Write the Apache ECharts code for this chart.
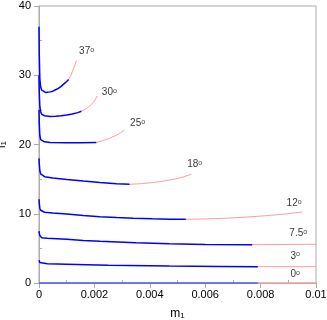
<!DOCTYPE html>
<html>
<head>
<meta charset="utf-8">
<title>i1 vs m1</title>
<script src="https://cdn.jsdelivr.net/npm/echarts@6/dist/echarts.min.js"></script>
<style>
  html, body { margin: 0; padding: 0; background: #fff; }
  #main { width: 327px; height: 320px; }
</style>
</head>
<body>
<div id="main"></div>
<script>
// angle names, in the same order as the curves below
var angles = ['37', '30', '25', '18', '12', '7.5', '3', '0'];

// blue (solid) part of each curve, [m1, i1]
var blue37 = [[0,37],[0.00001,33],[0.00003,29.5],[0.00006,28.3],[0.0001,27.85],[0.00015,27.6],[0.00025,27.5],[0.0004,27.6],[0.0005,27.7],[0.0006,27.9],[0.0007,28.1],[0.0008,28.4],[0.0009,28.75],[0.001,29.1],[0.00107,29.4]];
var blue30 = [[0,30],[0.00001,27.5],[0.00003,25.5],[0.00006,24.7],[0.0001,24.35],[0.0002,24.15],[0.0004,24.05],[0.0006,24.08],[0.0008,24.15],[0.001,24.25],[0.0012,24.4],[0.0014,24.6],[0.00153,24.8]];
var blue25 = [[0,25],[0.00001,23],[0.00003,21.3],[0.00006,20.7],[0.0001,20.5],[0.0002,20.38],[0.0004,20.3],[0.001,20.25],[0.0015,20.25],[0.00207,20.3]];
var blue18 = [[0,18],[0.00001,17.2],[0.00003,16.2],[0.00006,15.75],[0.0001,15.55],[0.0002,15.35],[0.0005,15.15],[0.001,14.95],[0.0016,14.72],[0.0022,14.5],[0.0028,14.33],[0.00327,14.25]];
var blue12 = [[0,12.1],[0.00001,11.5],[0.00003,10.8],[0.00006,10.5],[0.0001,10.35],[0.0002,10.22],[0.0005,10.1],[0.001,9.98],[0.0016,9.75],[0.0022,9.58],[0.0028,9.45],[0.0034,9.35],[0.0041,9.27],[0.0047,9.22],[0.0053,9.2]];
var blue7 = [[0,7.5],[0.00001,7.2],[0.00003,6.85],[0.00006,6.65],[0.0001,6.55],[0.0003,6.45],[0.001,6.3],[0.0016,6.15],[0.0022,6.02],[0.0035,5.8],[0.0047,5.65],[0.006,5.57],[0.0077,5.53]];
var blue3 = [[0,3.3],[0.00001,3.12],[0.00003,2.95],[0.00006,2.86],[0.0001,2.82],[0.0003,2.77],[0.001,2.7],[0.0025,2.58],[0.0047,2.45],[0.0065,2.4],[0.0079,2.36]];
var blue0 = [[0,0],[0.0079,0]];

// pink continuation of each curve
var red37 = [[0.00107,29.4],[0.00115,29.95],[0.0012,30.5],[0.00125,31.0],[0.0013,31.5],[0.00135,32.1]];
var red30 = [[0.00153,24.8],[0.0017,25.15],[0.00183,25.55],[0.0019,25.8],[0.002,26.25],[0.0021,27.0]];
var red25 = [[0.00207,20.3],[0.0023,20.55],[0.00255,20.9],[0.0028,21.35],[0.00295,21.7],[0.00309,22.1]];
var red18 = [[0.00327,14.25],[0.0037,14.35],[0.0041,14.5],[0.0045,14.72],[0.0049,15.0],[0.0052,15.3],[0.0055,15.7]];
var red12 = [[0.0053,9.2],[0.006,9.25],[0.0068,9.36],[0.0075,9.52],[0.0082,9.72],[0.0089,9.97],[0.0095,10.25]];
var red7 = [[0.0077,5.53],[0.009,5.56],[0.01,5.6]];
var red3 = [[0.0079,2.36],[0.01,2.36]];
var red0 = [[0.0079,0],[0.01,0]];

// where each angle label sits
var labelPos = [[0.00143,33.4],[0.00225,27.5],[0.00327,23.0],[0.00533,17.1],[0.00892,11.5],[0.00902,7.2],[0.00906,3.9],[0.00906,1.2]];

var blues = [blue37, blue30, blue25, blue18, blue12, blue7, blue3, blue0];
var reds = [red37, red30, red25, red18, red12, red7, red3, red0];

var myChart = echarts.init(document.getElementById('main'));

var series = [];
for (var i = 0; i < angles.length; i++) {
    series.push({
        type: 'line', data: reds[i], showSymbol: false, clip: false,
        lineStyle: { color: '#ff9c9c', width: 1 }, silent: true, z: 2
    });
    series.push({
        type: 'line', data: blues[i], showSymbol: false, clip: false,
        lineStyle: { color: i == 7 ? '#5a5aff' : '#0000ff', width: 1.5 }, silent: true, z: 3
    });
}
series.push({
    type: 'scatter',
    symbolSize: 1,
    itemStyle: { color: 'rgba(0,0,0,0)' },
    silent: true,
    data: labelPos.map(function (p, i) { return { value: p, name: angles[i] }; }),
    label: {
        show: true,
        position: 'right',
        distance: 0,
        formatter: function (p) { return '{a|' + p.name + '}{s|o}'; },
        rich: {
            a: { fontFamily: 'Liberation Sans', fontSize: 10, color: '#000' },
            s: { fontFamily: 'Liberation Sans', fontSize: 7, color: '#000', padding: [0, 0, 3, 0] }
        }
    }
});

var gray = '#ababab';
option = {
    animation: false,
    backgroundColor: '#fff',
    grid: {
        left: 39, right: 11, top: 6, bottom: 37, outerBoundsMode: 'none', containLabel: false,
        show: true, borderColor: gray, borderWidth: 1
    },
    xAxis: {
        type: 'value', min: 0, max: 0.01, interval: 0.002,
        splitLine: { show: false },
        axisLine: { lineStyle: { color: gray } },
        axisTick: { length: 5, lineStyle: { color: gray } },
        minorTick: { show: true, splitNumber: 2, length: -3, lineStyle: { color: gray } },
        axisLabel: {
            margin: 6, fontFamily: 'Liberation Sans', fontSize: 11, color: '#000',
            formatter: function (v) { return String(parseFloat(v.toFixed(4))); }
        },
        name: 'm{sub|1}', nameLocation: 'middle', nameGap: 24,
        nameTextStyle: {
            fontFamily: 'Liberation Sans', fontSize: 12, color: '#000',
            rich: { sub: { fontFamily: 'Liberation Sans', fontSize: 8, color: '#000', padding: [5, 0, 0, 0] } }
        }
    },
    yAxis: {
        type: 'value', min: 0, max: 40, interval: 10,
        splitLine: { show: false },
        axisLine: { lineStyle: { color: gray } },
        axisTick: { length: 5, lineStyle: { color: gray } },
        minorTick: { show: true, splitNumber: 2, length: -3, lineStyle: { color: gray } },
        axisLabel: { margin: 8, fontFamily: 'Liberation Sans', fontSize: 11, color: '#000' },
        name: 'i{sub|1}', nameLocation: 'middle', nameGap: 30,
        nameTextStyle: {
            fontFamily: 'Liberation Sans', fontSize: 12, color: '#000',
            rich: { sub: { fontFamily: 'Liberation Sans', fontSize: 8, color: '#000', padding: [5, 0, 0, 0] } }
        }
    },
    series: series
};
myChart.setOption(option);
</script>
</body>
</html>
